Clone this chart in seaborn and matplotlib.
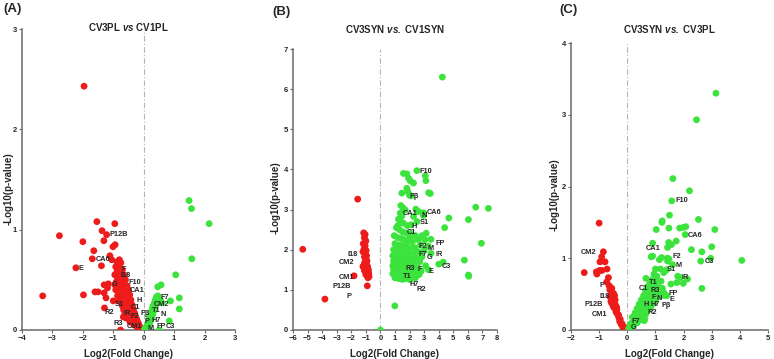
import numpy as np
import pandas as pd
import matplotlib
matplotlib.use('Agg')
import matplotlib.pyplot as plt
import seaborn as sns

# ---- data ----
# panel A: CV3PL vs CV1PL
a_down_x = [-1.96, -1.54, -0.95, -2.77, -1.37, -1.22, -2.0, -1.31, -0.94, -1.01, -1.64, -1.11, -1.69, -1.05,
            -2.23, -1.39, -3.32, -1.98, -1.60, -1.50, -1.30, -1.24, -1.16, -1.30, -1.19, -1.29, -1.0, -0.76, -0.67,
            -0.80, -0.75, -0.85, -0.92, -0.78, -0.70, -0.88, -0.82, -0.72, -0.65, -0.95, -0.86, -0.76, -0.68, -0.60,
            -0.90, -0.80, -0.72, -0.63, -0.55, -0.85, -0.77, -0.68, -0.58, -0.50, -0.92, -0.82, -0.73, -0.64, -0.54,
            -0.46, -0.86, -0.78, -0.69, -0.60, -0.50, -0.42, -0.83, -0.74, -0.65, -0.56, -0.47, -0.38, -0.70, -0.61,
            -0.52, -0.43, -0.34, -0.66, -0.57, -0.48, -0.39, -0.30, -0.62, -0.53, -0.44, -0.35, -0.26, -0.49, -0.40,
            -0.31, -0.22, -0.45, -0.36, -0.27, -0.18, -0.32, -0.23, -0.14, -0.20, -0.10, -0.06, -0.03, -0.58, -0.70,
            -0.95, -0.88]
a_down_y = [2.43, 1.08, 1.06, 0.94, 0.99, 0.95, 0.88, 0.89, 0.85, 0.83, 0.79, 0.74, 0.71, 0.70,
            0.62, 0.64, 0.34, 0.35, 0.38, 0.38, 0.37, 0.32, 0.46, 0.45, 0.42, 0.22, 0.29, 0.0, 0.13,
            0.70, 0.67, 0.65, 0.63, 0.62, 0.60, 0.58, 0.57, 0.56, 0.55, 0.55, 0.52, 0.52, 0.50, 0.50,
            0.48, 0.47, 0.46, 0.45, 0.44, 0.43, 0.42, 0.41, 0.40, 0.40, 0.40, 0.38, 0.37, 0.36, 0.35,
            0.35, 0.34, 0.33, 0.32, 0.31, 0.30, 0.30, 0.29, 0.28, 0.27, 0.26, 0.25, 0.25, 0.24, 0.23,
            0.22, 0.21, 0.21, 0.20, 0.19, 0.18, 0.17, 0.17, 0.16, 0.15, 0.14, 0.13, 0.13, 0.11, 0.10,
            0.10, 0.10, 0.08, 0.07, 0.07, 0.07, 0.05, 0.04, 0.04, 0.02, 0.02, 0.01, 0.005, 0.12, 0.35,
            0.45, 0.68]
a_up_x = [1.49, 1.57, 2.15, 1.58, 1.05, 0.46, 0.57, 1.17, 1.17, 0.88, 0.84, 0.51,
          0.42, 0.47, 0.38, 0.44, 0.35, 0.40, 0.31, 0.36, 0.28, 0.33, 0.25, 0.30, 0.22, 0.27, 0.19,
          0.24, 0.16, 0.20, 0.13, 0.17, 0.10, 0.12, 0.06, 0.03, 0.55, 0.60]
a_up_y = [1.29, 1.21, 1.06, 0.71, 0.55, 0.43, 0.45, 0.32, 0.21, 0.29, 0.09, 0.0,
          0.33, 0.34, 0.30, 0.29, 0.27, 0.25, 0.24, 0.22, 0.21, 0.19, 0.18, 0.16, 0.15, 0.13, 0.12,
          0.10, 0.09, 0.07, 0.06, 0.04, 0.04, 0.02, 0.02, 0.01, 0.30, 0.27]
a_names = ['P12B', 'CA6', 'E', 'F', 'I18', 'G', 'F10', 'CA1', 'H', 'S1', 'C1', 'R2', 'IR', 'F2', 'P\u03b2',
           'R3', 'CM1', 'P', 'M', 'F7', 'CM2', 'T1', 'N', 'H7', 'FP', 'C3']
a_name_x = [-1.14, -1.58, -2.14, -0.73, -0.76, -1.04, -0.50, -0.47, -0.24, -0.94, -0.42, -1.29, -0.67, -0.42,
            -0.09, -0.99, -0.57, 0.04, 0.12, 0.54, 0.34, 0.26, 0.55, 0.27, 0.41, 0.74]
a_name_y = [0.95, 0.70, 0.61, 0.60, 0.54, 0.45, 0.47, 0.39, 0.29, 0.25, 0.22, 0.17, 0.16, 0.13,
            0.16, 0.06, 0.03, 0.08, 0.015, 0.32, 0.25, 0.19, 0.15, 0.09, 0.03, 0.03]

# panel B: CV3SYN vs. CV1SYN
b_down_x = [-5.33, -3.81, -1.56, -1.81, -0.90,
            -1.15, -1.05, -1.10, -1.00, -1.18, -1.05, -1.12, -0.98, -1.20, -1.05, -0.95, -1.10, -1.00, -0.92,
            -1.08, -0.96, -1.15, -0.88, -1.02, -0.92, -1.10, -0.85, -0.98, -0.80, -0.90, -0.78, -0.86, -1.20,
            -0.82, -1.00]
b_down_y = [2.01, 0.77, 3.26, 1.35, 1.10,
            2.42, 2.38, 2.30, 2.22, 2.15, 2.10, 2.02, 1.98, 1.95, 1.90, 1.85, 1.82, 1.76, 1.72,
            1.68, 1.64, 1.60, 1.58, 1.55, 1.50, 1.48, 1.45, 1.42, 1.40, 1.36, 1.33, 1.30, 1.58,
            1.50, 1.38]
b_up_x = [4.25, 0.99, 0.0, 6.54, 7.41, 4.70, 6.04, 4.41, 6.93, 5.76, 6.04, 6.06, 4.31, 4.0, 3.47, 3.28, 3.47,
          3.14,
          2.50, 1.58, 1.81, 1.93, 2.04, 2.27, 3.08, 3.12, 1.81, 1.88, 1.47, 1.99, 2.11, 3.31, 3.42, 1.40, 1.54,
          1.70, 2.43, 1.36, 1.47, 2.96, 2.62, 1.24, 1.40, 1.58, 2.27, 2.50, 1.20, 1.85, 2.10, 2.95,
          1.1, 1.3, 1.5, 1.75, 2.05, 2.4, 0.95, 1.2, 1.45, 1.65, 1.9, 2.2, 2.6, 1.0, 1.3, 1.55, 1.8, 2.05,
          2.35, 2.75, 0.9, 1.15, 1.4, 1.65, 1.95, 2.25, 2.6, 3.0, 0.85, 1.05, 1.3, 1.55, 1.8, 2.1, 2.45, 2.85,
          0.9, 1.15, 1.4, 1.65, 1.95, 2.3, 2.7, 0.85, 1.1, 1.35, 1.6, 1.85, 2.15, 2.55, 3.1, 0.9, 1.15, 1.4,
          1.65, 1.95, 2.35, 2.8, 3.3, 0.85, 1.05, 1.3, 1.55, 1.85, 2.2, 2.65, 1.0, 1.25, 1.5, 1.75, 2.05,
          2.4, 1.2, 1.6, 2.0, 1.35, 1.75, 1.1, 0.95, 1.25, 1.45, 2.85, 3.05]
b_up_y = [6.30, 0.60, 0.0, 3.06, 3.03, 2.79, 2.75, 2.55, 2.16, 1.74, 1.37, 1.34, 1.69, 1.64, 1.91, 2.09, 2.26,
          2.41,
          3.97, 3.90, 3.89, 3.78, 3.72, 3.66, 3.84, 3.72, 3.53, 3.45, 3.41, 3.36, 3.34, 3.42, 3.40, 3.10, 3.05,
          2.99, 3.01, 2.91, 2.84, 2.92, 2.95, 2.76, 2.70, 2.66, 2.83, 2.70, 2.60, 2.60, 2.62, 2.85,
          2.55, 2.50, 2.45, 2.42, 2.40, 2.35, 2.35, 2.30, 2.28, 2.25, 2.22, 2.20, 2.25, 2.15, 2.12, 2.10, 2.08,
          2.05, 2.05, 2.12, 2.0, 1.98, 1.96, 1.95, 1.92, 1.90, 1.95, 1.98, 1.85, 1.85, 1.83, 1.82, 1.80, 1.78,
          1.80, 1.82, 1.72, 1.72, 1.70, 1.70, 1.68, 1.66, 1.70, 1.60, 1.60, 1.58, 1.58, 1.56, 1.55, 1.55,
          1.60, 1.50, 1.48, 1.48, 1.46, 1.45, 1.44, 1.47, 1.50, 1.40, 1.38, 1.38, 1.36, 1.35, 1.33, 1.38,
          1.30, 1.28, 1.26, 1.28, 1.25, 1.30, 2.0, 1.9, 2.3, 1.65, 1.5, 1.42, 1.55, 1.75, 2.05, 2.35, 2.25]
b_names = ['F10', 'P\u03b2', 'CA1', 'N', 'CA6', 'S1', 'H', 'C1', 'F2', 'M', 'FP', 'F7', 'G', 'IR', 'R3', 'F',
           'T1', 'E', 'H7', 'R2', 'C3', 'I18', 'CM2', 'CM1', 'P12B', 'P']
b_name_x = [2.71, 1.97, 1.54, 2.82, 3.19, 2.73, 2.11, 1.81, 2.59, 3.26, 3.81, 2.59, 3.21, 3.76, 1.72, 2.57,
            1.54, 3.28, 2.02, 2.50, 4.20, -1.58, -1.79, -1.79, -2.04, -1.97]
b_name_y = [3.95, 3.32, 2.89, 2.86, 2.93, 2.68, 2.59, 2.43, 2.08, 2.03, 2.16, 1.89, 1.81, 1.87, 1.54, 1.50,
            1.33, 1.45, 1.14, 1.0, 1.58, 1.89, 1.68, 1.30, 1.08, 0.83]

# panel C: CV3SYN vs. CV3PL
c_down_x = [-1.0, -0.85, -0.91, -0.97, -0.79, -1.53, -1.10, -0.98, -0.90, -0.72, -1.08,
            -0.67, -0.73, -0.61, -0.55, -0.49, -0.61, -0.43, -0.55, -0.49, -0.37, -0.31, -0.25, -0.19, -0.13,
            -0.62, -0.58, -0.52, -0.47, -0.50, -0.44, -0.40, -0.35, -0.30, -0.27, -0.22, -0.16, -0.10, -0.05,
            -0.65, -0.55, -0.45, -0.42, -0.58, -0.38]
c_down_y = [1.49, 1.09, 1.02, 0.95, 0.95, 0.80, 0.81, 0.83, 0.83, 0.85, 0.78,
            0.73, 0.67, 0.60, 0.53, 0.51, 0.46, 0.42, 0.37, 0.32, 0.28, 0.21, 0.15, 0.09, 0.05,
            0.56, 0.48, 0.45, 0.40, 0.35, 0.30, 0.25, 0.22, 0.17, 0.12, 0.08, 0.04, 0.02, 0.01,
            0.62, 0.58, 0.48, 0.35, 0.40, 0.32]
c_up_x = [3.15, 2.46, 1.62, 2.21, 1.58, 1.24, 1.23, 1.50, 2.53, 1.48, 1.86, 1.99, 2.08, 3.11, 1.03, 2.06,
          1.74, 1.47, 1.57, 1.43, 0.90, 2.28, 3.0, 2.65, 4.07, 2.61, 2.96, 0.90, 0.85, 1.22, 1.14, 1.43, 1.48,
          1.43, 1.61, 1.40, 1.79, 1.89, 1.99, 2.14, 2.65, 1.55, 1.76, 0.66, 0.6, 0.1,
          0.05, 0.1, 0.15, 0.2, 0.25, 0.18, 0.3, 0.35, 0.28, 0.4, 0.45, 0.35, 0.5, 0.55, 0.42, 0.6, 0.65, 0.5,
          0.7, 0.75, 0.58, 0.8, 0.85, 0.65, 0.9, 0.95, 0.72, 1.0, 1.05, 0.8, 1.1, 1.15, 0.88, 1.2, 0.95,
          1.05, 1.25, 1.3, 0.3, 0.45, 0.6, 0.75, 0.9, 0.4, 0.55, 0.7, 0.85, 1.0, 0.2, 0.38, 0.62, 1.18, 1.3,
          1.0, 1.2, 1.3, 1.4]
c_up_y = [3.30, 2.93, 2.11, 1.94, 1.80, 1.52, 1.50, 1.60, 1.54, 1.42, 1.42, 1.43, 1.44, 1.40, 1.40, 1.33,
          1.24, 1.22, 1.19, 1.15, 1.21, 1.12, 1.16, 1.09, 0.97, 0.96, 1.0, 1.03, 1.02, 1.01, 0.98, 1.0, 0.99,
          0.96, 0.91, 0.84, 0.75, 0.73, 0.65, 0.71, 0.58, 0.64, 0.66, 0.72, 0.13, 0.05,
          0.02, 0.08, 0.05, 0.12, 0.08, 0.18, 0.15, 0.10, 0.24, 0.20, 0.14, 0.30, 0.25, 0.18, 0.36, 0.30, 0.22,
          0.42, 0.35, 0.28, 0.48, 0.42, 0.33, 0.55, 0.48, 0.38, 0.60, 0.55, 0.45, 0.65, 0.60, 0.50, 0.70, 0.68,
          0.78, 0.75, 0.58, 0.48, 0.20, 0.28, 0.38, 0.50, 0.62, 0.30, 0.40, 0.45, 0.55, 0.68, 0.05, 0.22, 0.15,
          0.85, 0.80, 0.85, 0.50, 0.52, 0.48]
c_names = ['F10', 'CA6', 'CA1', 'F2', 'M', 'S1', 'C3', 'IR', 'T1', 'C1', 'R3', 'FP', 'F', 'N', 'E', 'H', 'H7',
           'P\u03b2', 'R2', 'F7', 'G', 'CM2', 'P', 'I18', 'P12B', 'CM1']
c_name_x = [1.71, 2.14, 0.64, 1.61, 1.71, 1.41, 2.74, 1.93, 0.78, 0.39, 0.84, 1.45, 0.86, 1.03, 1.49, 0.58,
            0.84, 1.22, 0.72, 0.14, 0.14, -1.12, -0.83, -0.97, -0.85, -0.72]
c_name_y = [1.80, 1.32, 1.14, 1.03, 0.90, 0.85, 0.95, 0.73, 0.66, 0.58, 0.55, 0.51, 0.45, 0.44, 0.42, 0.36,
            0.35, 0.34, 0.24, 0.12, 0.03, 1.08, 0.62, 0.47, 0.36, 0.22]

sns.set_style('ticks')
plt.rcParams['font.family'] = ['Liberation Sans', 'DejaVu Sans']
plt.rcParams['font.weight'] = 'bold'
plt.rcParams['mathtext.fontset'] = 'custom'
plt.rcParams['mathtext.rm'] = 'Liberation Sans:bold'
plt.rcParams['mathtext.bf'] = 'Liberation Sans:bold'
plt.rcParams['mathtext.it'] = 'Liberation Sans:italic:bold'
plt.rcParams['mathtext.bfit'] = 'Liberation Sans:italic:bold'

W, H = 774, 359
fig = plt.figure(figsize=(W / 100, H / 100), dpi=100)

RED = '#ee1b1b'
GREEN = '#3de33d'
GREY = '#6a6a6a'


def make_df(dx, dy, ux, uy):
    d = pd.DataFrame({'fc': dx, 'p': dy, 'reg': 'down'})
    u = pd.DataFrame({'fc': ux, 'p': uy, 'reg': 'up'})
    return pd.concat([d, u], ignore_index=True)


panels = [
    dict(box=(22, 235, 29, 330), xlim=(-4, 3), ylim=(0, 3),
         title=r'CV3PL $\mathbfit{vs}$ CV1PL', letter='(A)', lxy=(3, 9), ty=27, ylab_x=14,
         df=make_df(a_down_x, a_down_y, a_up_x, a_up_y),
         names=a_names, nx=a_name_x, ny=a_name_y, right_names=[]),
    dict(box=(293, 497, 49, 330), xlim=(-6, 8), ylim=(0, 7),
         title=r'CV3SYN $\mathbfit{vs.}$ CV1SYN', letter='(B)', lxy=(272, 12), ty=29, ylab_x=281,
         df=make_df(b_down_x, b_down_y, b_up_x, b_up_y),
         names=b_names, nx=b_name_x, ny=b_name_y, right_names=['I18', 'CM2', 'CM1', 'P12B', 'P']),
    dict(box=(571, 768, 43, 330), xlim=(-2, 5), ylim=(0, 4),
         title=r'CV3SYN $\mathbfit{vs.}$ CV3PL', letter='(C)', lxy=(559, 10), ty=29, ylab_x=560,
         df=make_df(c_down_x, c_down_y, c_up_x, c_up_y),
         names=c_names, nx=c_name_x, ny=c_name_y, right_names=['CM2', 'P', 'P12B', 'CM1']),
]

for pn in panels:
    l, r, t, b = pn['box']
    ax = fig.add_axes([l / W, 1 - b / H, (r - l) / W, (b - t) / H])
    ax.axvline(0, color='#b5b5b5', lw=0.8, ls=(0, (5, 2, 1, 2)), zorder=0)
    sns.scatterplot(data=pn['df'], x='fc', y='p', hue='reg', palette={'down': RED, 'up': GREEN},
                    s=24, linewidth=0, legend=False, ax=ax, zorder=3)
    ax.set_xlim(*pn['xlim'])
    ax.set_ylim(*pn['ylim'])
    ax.set_xticks(np.arange(pn['xlim'][0], pn['xlim'][1] + 1))
    ax.set_yticks(np.arange(pn['ylim'][0], pn['ylim'][1] + 1))
    ax.set_xlabel('Log2(Fold Change)', fontsize=7, fontweight='bold')
    ax.set_ylabel('-Log10(p-value)', fontsize=7, fontweight='bold')
    ax.xaxis.set_label_coords(0.5, -19 / (b - t))
    ax.yaxis.set_label_coords((pn['ylab_x'] - l) / (r - l), 0.47)
    ax.tick_params(axis='both', labelsize=5.5, length=2.5, width=0.8, color=GREY, pad=1.2)
    for lab in ax.get_xticklabels() + ax.get_yticklabels():
        lab.set_fontweight('bold')
    sns.despine(ax=ax)
    for side in ['left', 'bottom']:
        ax.spines[side].set_color(GREY)
        ax.spines[side].set_linewidth(1.1)
    ax.patch.set_alpha(0)

    for nm, x, y in zip(pn['names'], pn['nx'], pn['ny']):
        ha = 'right' if nm in pn['right_names'] else 'left'
        ax.text(x, y, nm, fontsize=5.3, fontweight='bold', ha=ha, va='center', zorder=5)

    fig.text(((l + r) / 2) / W, 1 - pn['ty'] / H, pn['title'], fontsize=7, fontweight='bold',
             ha='center', va='center')
    fig.text(pn['lxy'][0] / W, 1 - pn['lxy'][1] / H, pn['letter'], fontsize=9.5, fontweight='bold',
             ha='left', va='center')

fig.savefig('out.png', dpi=100)
